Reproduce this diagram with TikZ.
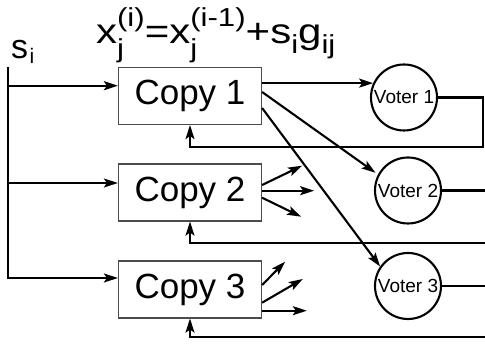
\documentclass[tikz,border=0pt]{standalone}
\usepackage{fontspec}
\setmainfont{Liberation Sans}
\usepackage{graphicx}
\usetikzlibrary{arrows.meta}
\newcommand{\subf}{\fontsize{26}{28}\selectfont}
\newcommand{\xsup}[2]{\makebox[0pt][l]{\raisebox{-14.5pt}{\subf #2}}\raisebox{17pt}{\subf #1}}
\newcommand{\subi}[1]{\raisebox{-10pt}{\subf #1}}
\begin{document}
\begin{tikzpicture}[x=1pt,y=1pt,>={Stealth[length=14pt,width=9pt,inset=3pt]}, line width=2.1pt, line join=miter]
	\tikzset{copybox/.style={draw=black!70,line width=1.2pt,minimum width=143pt,minimum height=57pt,inner sep=0pt,font=\fontsize{35}{40}\selectfont}}
	\tikzset{voter/.style={draw,circle,minimum size=66pt,inner sep=0pt,font=\fontsize{19}{22}\selectfont}}
	\useasboundingbox (0,0) rectangle (485,345);
	\clip (0,0) rectangle (485,345);
	% copies and voters
	\node[copybox] (c1) at (190,249) {Copy 1};
	\node[copybox] (c2) at (190,152.5) {Copy 2};
	\node[copybox] (c3) at (190,55.5) {Copy 3};
	\node[voter] (v1) at (404,247.5) {Voter 1};
	\node[voter] (v2) at (408,154.5) {Voter 2};
	\node[voter] (v3) at (408,59) {Voter 3};
	% labels
	\node[anchor=base west,inner sep=0pt,font=\fontsize{34}{36}\selectfont] (si) at (10,286.7)
	{s\kern1.5pt\raisebox{-5pt}{\fontsize{21}{24}\selectfont i}};
	\node[anchor=base west,inner sep=0pt,font=\fontsize{35}{40}\selectfont] (eq) at (95,301.7)
	{\scalebox{1.2}[1]{x\xsup{(i)}{j}=x\xsup{(i-1)}{j}+s\subi{i}g\subi{ij}}};
	% input s_i
	\coordinate (top) at (8,278.3);
	\coordinate (b1) at (8,259.3);
	\coordinate (b2) at (8,162);
	\coordinate (b3) at (8,67);
	\draw[->] (top) -- (b3) -- (b3 -| c3.west);
	\foreach \i in {1,2}
	\draw[->] (b\i) -- (b\i -| c\i.west);
	% copy 1 to the voters
	\coordinate (p2) at ([yshift=4pt]c1.east);
	\coordinate (p3) at ([yshift=-12pt]c1.east);
	\draw[->] (c1.east |- v1.155) -- (v1.155);
	\draw[->,shorten >=3pt] (p2) -- (v2.152);
	\draw[->] (p3) -- (v3.145);
	% copy 2 and copy 3 to the voters
	\foreach \s/\dx/\dy in {7.5/40/19.3, 1.8/52/0, -5.2/39/-19}
	\draw[->] ([yshift=\s pt]c2.east) -- ++(\dx,\dy);
	\foreach \s/\dx/\dy in {4.5/23/23.3, -13.2/40.7/23.7, -21.2/44.7/0}
	\draw[->] ([yshift=\s pt]c3.east) -- ++(\dx,\dy);
	% feedback
	\coordinate (r1) at (483,197.7);
	\coordinate (r2) at (495,102);
	\coordinate (r3) at (495,7.7);
	\foreach \i in {1,2,3}
	\draw[->] (v\i.east) -| (r\i) -| (c\i.south);
\end{tikzpicture}
\end{document}
